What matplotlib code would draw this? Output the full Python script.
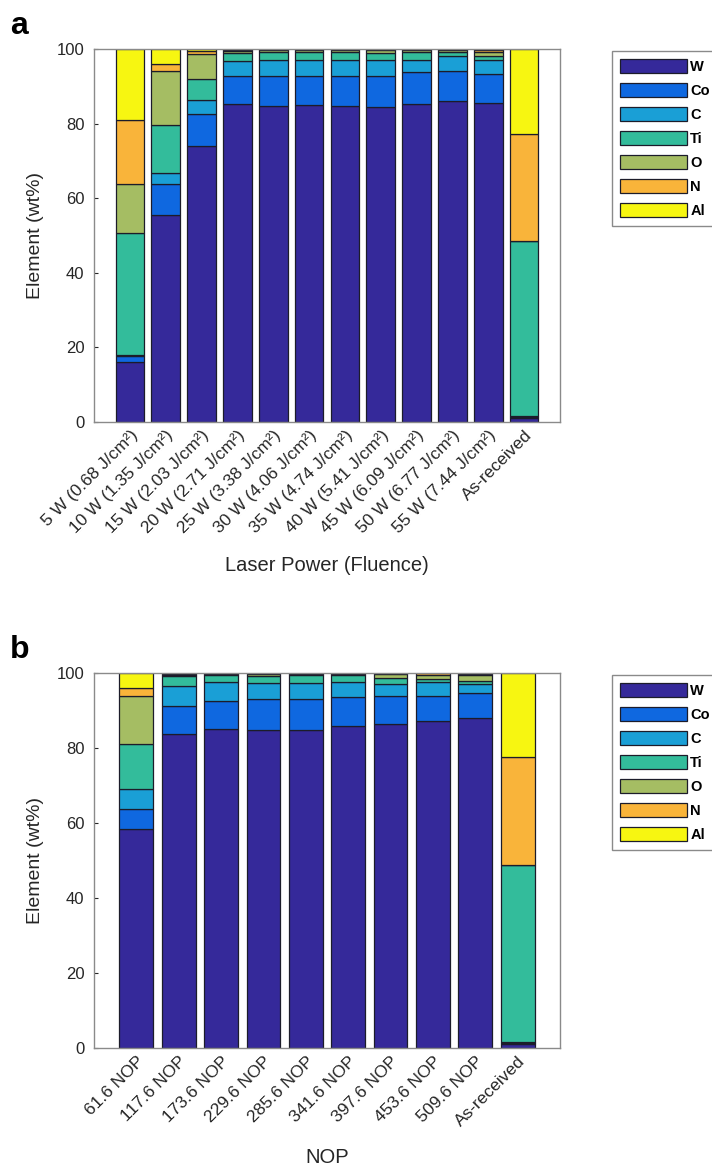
import numpy as np
from matplotlib import pyplot as plt

plt.rcParams['font.family'] = ['Liberation Sans', 'DejaVu Sans']

elements = ['W', 'Co', 'C', 'Ti', 'O', 'N', 'Al']
colors = ['#35299a', '#0f68e0', '#1a9fd6', '#33bc9b', '#a5bd63', '#f9b43a', '#f7f611']

# panel a - laser power (fluence)
labels_a = ['5 W (0.68 J/cm²)', '10 W (1.35 J/cm²)', '15 W (2.03 J/cm²)',
            '20 W (2.71 J/cm²)', '25 W (3.38 J/cm²)', '30 W (4.06 J/cm²)',
            '35 W (4.74 J/cm²)', '40 W (5.41 J/cm²)', '45 W (6.09 J/cm²)',
            '50 W (6.77 J/cm²)', '55 W (7.44 J/cm²)', 'As-received']
a_W = [16.2, 55.6, 74.0, 85.2, 84.8, 85.0, 84.8, 84.4, 85.2, 86.0, 85.6, 1.0]
a_Co = [1.5, 8.1, 8.7, 7.6, 8.0, 7.8, 8.0, 8.4, 8.5, 8.1, 7.6, 0.3]
a_C = [0.3, 3.0, 3.6, 4.1, 4.3, 4.3, 4.3, 4.3, 3.4, 4.0, 3.9, 0.3]
a_Ti = [32.7, 12.9, 5.6, 2.0, 2.2, 2.1, 2.2, 1.9, 2.1, 1.0, 1.1, 46.9]
a_O = [13.2, 14.6, 6.8, 0.6, 0.4, 0.5, 0.4, 0.6, 0.5, 0.5, 1.1, 0.0]
a_N = [17.1, 1.8, 0.7, 0.3, 0.2, 0.2, 0.2, 0.3, 0.2, 0.3, 0.5, 28.7]
a_Al = [19.0, 4.0, 0.6, 0.2, 0.1, 0.1, 0.1, 0.1, 0.1, 0.1, 0.2, 22.8]

# panel b - number of pulses
labels_b = ['61.6 NOP', '117.6 NOP', '173.6 NOP', '229.6 NOP', '285.6 NOP',
            '341.6 NOP', '397.6 NOP', '453.6 NOP', '509.6 NOP', 'As-received']
b_W = [58.3, 83.7, 85.1, 84.9, 84.8, 86.0, 86.3, 87.1, 88.1, 1.0]
b_Co = [5.4, 7.6, 7.5, 8.2, 8.3, 7.6, 7.5, 6.8, 6.5, 0.3]
b_C = [5.5, 5.3, 4.9, 4.3, 4.2, 4.0, 3.3, 3.6, 2.6, 0.3]
b_Ti = [11.8, 2.5, 1.9, 1.9, 2.1, 1.8, 1.6, 1.0, 0.8, 47.3]
b_O = [12.9, 0.5, 0.3, 0.4, 0.3, 0.4, 1.0, 1.1, 1.5, 0.0]
b_N = [2.1, 0.2, 0.2, 0.2, 0.2, 0.1, 0.2, 0.3, 0.3, 28.8]
b_Al = [4.0, 0.2, 0.1, 0.1, 0.1, 0.1, 0.1, 0.1, 0.2, 22.3]

W, H = 712, 1175
fig = plt.figure(figsize=(W / 100, H / 100), dpi=100)
txt = '#262626'


def panel(top, bottom, labels, series, xlabel, letter):
    ax = fig.add_axes([94 / W, 1 - bottom / H, (560 - 94) / W, (bottom - top) / H])
    x = np.arange(1, len(labels) + 1)
    base = np.zeros(len(labels))
    for name, vals, col in zip(elements, series, colors):
        ax.bar(x, vals, 0.8, bottom=base, color=col, edgecolor='#1c1c2a',
               linewidth=0.9, label=name)
        base += np.array(vals)
    ax.set_xlim(0, len(labels) + 1)
    ax.set_ylim(0, 100)
    ax.set_yticks([0, 20, 40, 60, 80, 100])
    ax.set_xticks(x)
    ax.set_xticklabels(labels, rotation=45, ha='right', rotation_mode='anchor',
                       fontsize=12.5)
    ax.tick_params(axis='x', length=0, pad=4, colors=txt)
    ax.tick_params(axis='y', direction='in', length=3, labelsize=12,
                   colors=txt, pad=7)
    for s in ax.spines.values():
        s.set_color('#8a8a8a')
        s.set_linewidth(1.0)
    ax.set_ylabel('Element (wt%)', fontsize=14, color=txt, labelpad=9)
    ax.set_xlabel(xlabel, fontsize=14.5, color=txt, labelpad=14)
    leg = ax.legend(loc='upper left', bbox_to_anchor=(1.112, 0.995), borderaxespad=0,
                    prop={'size': 10.5, 'weight': 'bold'}, handlelength=4.6,
                    handleheight=1.1, labelspacing=0.62, handletextpad=0.2,
                    borderpad=0.55, fancybox=False, framealpha=1)
    leg.get_frame().set_edgecolor('#8a8a8a')
    leg.get_frame().set_linewidth(1.0)
    fig.text(10 / W, 1 - (top - 15) / H, letter, fontsize=23, fontweight='bold',
             ha='left', va='baseline')
    return ax


panel(49, 422, labels_a, [a_W, a_Co, a_C, a_Ti, a_O, a_N, a_Al],
      'Laser Power (Fluence)', 'a')
panel(673, 1048, labels_b, [b_W, b_Co, b_C, b_Ti, b_O, b_N, b_Al],
      'NOP', 'b')

plt.savefig('out.png', dpi=100)
